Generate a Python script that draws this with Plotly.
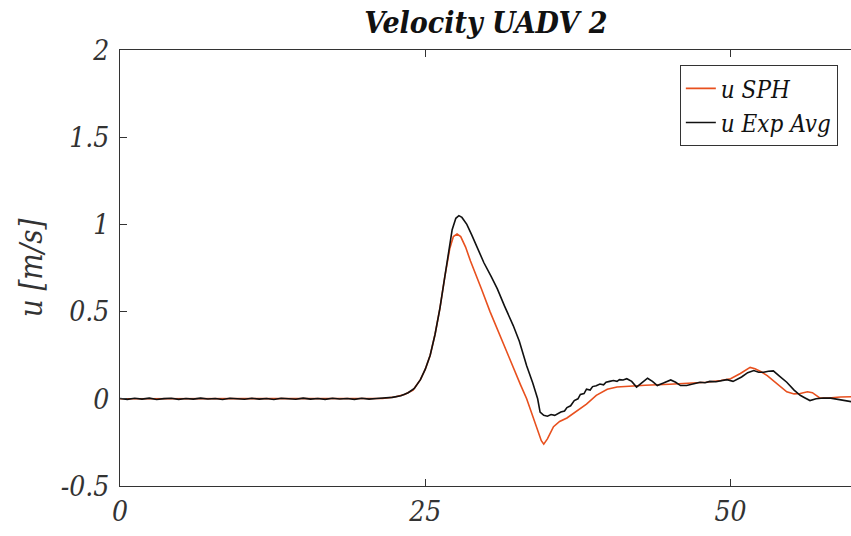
import plotly.graph_objects as go

# ---- data ----
x_sph = [0, 10, 20, 21.5, 22.5, 23.3, 24.0, 24.6, 25.0, 25.4, 25.8, 26.2, 26.6, 27.0, 27.3, 27.6,
         27.9, 28.3, 28.7, 29.0, 29.6, 30.3, 31.0, 31.6, 32.2, 32.8, 33.3, 33.8, 34.2, 34.5, 34.7,
         35.0, 35.5, 36.0, 36.6, 37.4, 38.2, 39.0, 39.9, 40.7, 41.5, 43.0, 45.0, 46.5, 48.0, 49.2,
         50.0, 50.8, 51.6, 52.0, 52.5, 53.0, 53.8, 54.6, 55.2, 55.7, 56.3, 56.7, 57.3, 58.0, 59.0, 59.9]
u_sph = [0, 0, 0, 0.002, 0.01, 0.025, 0.05, 0.11, 0.17, 0.25, 0.37, 0.52, 0.70, 0.86, 0.93, 0.945,
         0.93, 0.87, 0.79, 0.74, 0.63, 0.50, 0.38, 0.28, 0.18, 0.08, 0.0, -0.10, -0.19, -0.24, -0.26,
         -0.23, -0.16, -0.13, -0.11, -0.07, -0.03, 0.02, 0.055, 0.068, 0.072, 0.078, 0.083, 0.087, 0.095, 0.105,
         0.115, 0.145, 0.18, 0.172, 0.155, 0.133, 0.085, 0.04, 0.028, 0.03, 0.04, 0.035, 0.005, 0.005, 0.01, 0.012]

x_exp = [0, 0.6, 1.2, 1.8, 2.4, 3.0, 3.6, 4.2, 4.8, 5.4, 6.0, 6.6, 7.2, 7.8, 8.4, 9.0, 9.6, 10.2,
         10.8, 11.4, 12.0, 12.6, 13.2, 13.8, 14.4, 15.0, 15.6, 16.2, 16.8, 17.4, 18.0, 18.6, 19.2,
         19.8, 20.4, 21.0, 21.5, 22.3, 23.0, 23.6, 24.1, 24.6, 25.0, 25.4, 25.8, 26.2, 26.6, 26.9,
         27.2, 27.5, 27.75, 28.0, 28.4, 28.8, 29.2, 29.8, 30.4, 30.9, 31.5, 32.2, 32.7, 33.3, 33.8,
         34.2, 34.4, 34.7, 35.0, 35.3, 35.6, 36.1, 36.4, 36.6, 36.9, 37.2, 37.5, 37.7, 38.0, 38.2,
         38.5, 38.7, 39.0, 39.3, 39.6, 39.8, 40.1, 40.4, 40.7, 40.9, 41.2, 41.5, 41.9, 42.3, 42.7,
         43.2, 43.6, 44.0, 44.5, 45.1, 45.5, 45.9, 46.4, 47.0, 47.5, 47.9, 48.3, 48.8, 49.2, 49.7,
         50.2, 50.5, 50.9, 51.4, 51.9, 52.3, 52.7, 53.1, 53.5, 54.0, 54.6, 55.2, 55.7, 56.1, 56.5,
         57.0, 57.6, 58.2, 58.8, 59.3, 59.9]
u_exp = [0.002, -0.003, 0.003, -0.002, 0.004, -0.004, 0.001, 0.003, -0.003, 0.002, -0.002, 0.004,
         -0.001, 0.002, -0.004, 0.003, 0.0, -0.003, 0.003, -0.002, 0.002, -0.004, 0.003, 0.0,
         -0.003, 0.004, -0.002, 0.002, -0.003, 0.003, -0.001, 0.002, -0.003, 0.003, -0.002, 0.002,
         0.003, 0.008, 0.018, 0.035, 0.06, 0.11, 0.17, 0.25, 0.37, 0.52, 0.70, 0.85,
         0.97, 1.035, 1.05, 1.04, 1.00, 0.94, 0.876, 0.78, 0.70, 0.63, 0.53, 0.42, 0.33, 0.19, 0.09,
         0.0, -0.076, -0.095, -0.10, -0.09, -0.095, -0.076, -0.07, -0.05, -0.04, -0.01, 0.0, 0.025, 0.03, 0.055,
         0.05, 0.07, 0.075, 0.085, 0.08, 0.095, 0.1, 0.105, 0.1, 0.11, 0.108, 0.115, 0.10, 0.067, 0.09,
         0.118, 0.10, 0.076, 0.09, 0.108, 0.095, 0.076, 0.076, 0.088, 0.095, 0.092, 0.10, 0.098, 0.105, 0.11,
         0.10, 0.112, 0.125, 0.15, 0.162, 0.152, 0.152, 0.158, 0.16, 0.13, 0.095, 0.05, 0.02, 0.005, -0.01,
         0.0, 0.005, 0.004, -0.002, -0.01, -0.017]

y_tick_vals = [-0.5, 0, 0.5, 1, 1.5, 2]
y_tick_text = ["-0.5", "0", "0.5", "1", "1.5", "2"]
x_tick_vals = [0, 25, 50]
x_tick_text = ["0", "25", "50"]

SERIF = "DejaVu Serif Condensed"
AX = "#333333"

fig = go.Figure()
fig.add_trace(go.Scatter(x=x_sph, y=u_sph, mode="lines", name="u SPH",
                         line=dict(color="#E8501E", width=1.6)))
fig.add_trace(go.Scatter(x=x_exp, y=u_exp, mode="lines", name="u Exp Avg",
                         line=dict(color="#111111", width=1.6)))

fig.update_layout(
    width=851, height=536,
    margin=dict(l=120, r=0, t=50, b=50),
    paper_bgcolor="white", plot_bgcolor="white",
    font=dict(family=SERIF),
    title=dict(text="<b><i>Velocity UADV 2</i></b>", x=0.571, xanchor="center",
               y=0.958, yanchor="middle",
               font=dict(family=SERIF, size=30, color="#111111")),
    showlegend=True,
    legend=dict(x=0.982, xanchor="right", y=0.965, yanchor="top",
                bgcolor="white", bordercolor="#333333", borderwidth=1,
                font=dict(family=SERIF, size=24, color="#111111", style="italic"),
                tracegroupgap=0, itemwidth=30),
    xaxis=dict(range=[0, 59.86], tickvals=x_tick_vals, ticktext=x_tick_text,
               ticks="inside", ticklen=7, tickcolor=AX, showline=True, linecolor=AX,
               linewidth=1, mirror="ticks", showgrid=False, zeroline=False,
               tickfont=dict(family=SERIF, size=28, color=AX, style="italic")),
    yaxis=dict(range=[-0.5, 2], tickvals=y_tick_vals, ticktext=y_tick_text,
               ticks="inside", ticklen=7, tickcolor=AX, showline=True, linecolor=AX,
               linewidth=1, showgrid=False, zeroline=False,
               ticklabelstandoff=4,
               tickfont=dict(family=SERIF, size=28, color=AX, style="italic"),
               title=dict(text="u [m/s]", standoff=8,
                          font=dict(family=SERIF, size=31, color=AX, style="italic"))),
)

fig.write_html("out.html")
